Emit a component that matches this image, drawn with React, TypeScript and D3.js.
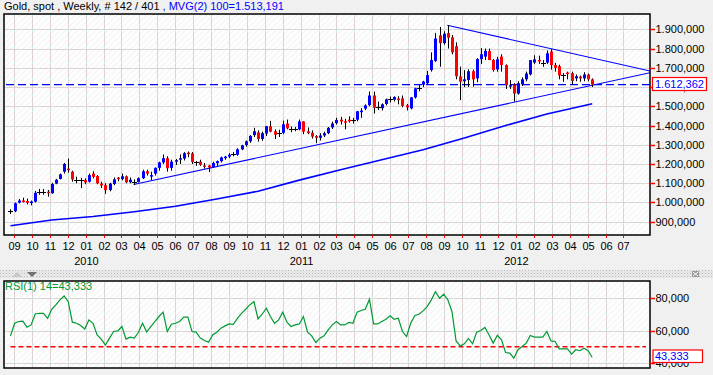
import React from "react";
import * as d3 from "d3";

const W = 713;
const H = 375;

// weekly bars, first bar week of 2009-08-24 (plotted mid-week)
const FIRST_BAR = Date.UTC(2009, 7, 26);

const opens = [
  955, 955, 999, 1010, 1008, 998, 1004, 1052, 1054, 1056,
  1048, 1098, 1122, 1160, 1176, 1160, 1118, 1115, 1116, 1108,
  1150, 1137, 1098, 1090, 1065, 1096, 1129, 1122, 1136, 1105,
  1104, 1106, 1126, 1162, 1138, 1150, 1180, 1208, 1230, 1180,
  1212, 1224, 1228, 1259, 1255, 1210, 1212, 1192, 1192, 1184,
  1204, 1215, 1230, 1238, 1250, 1248, 1276, 1298, 1318, 1350,
  1364, 1330, 1358, 1396, 1370, 1360, 1362, 1410, 1382, 1381,
  1380, 1421, 1370, 1362, 1345, 1336, 1348, 1360, 1390, 1412,
  1430, 1422, 1430, 1428, 1430, 1472, 1488, 1506, 1556, 1496,
  1490, 1512, 1540, 1534, 1540, 1541, 1505, 1489, 1546, 1597,
  1612, 1620, 1688, 1736, 1868, 1828, 1880, 1858, 1812, 1655,
  1630, 1636, 1682, 1645, 1745, 1758, 1787, 1740, 1692, 1758,
  1714, 1606, 1612, 1566, 1614, 1640, 1666, 1727, 1741, 1727,
  1727, 1784, 1714, 1708, 1660, 1675, 1672, 1645, 1654, 1645,
  1665, 1640,
];
const highs = [
  965, 1000, 1018, 1025, 1020, 1010, 1060, 1070, 1070, 1065,
  1102, 1122, 1150, 1205, 1228, 1165, 1134, 1128, 1125, 1150,
  1162, 1142, 1108, 1100, 1102, 1130, 1132, 1150, 1140, 1130,
  1120, 1130, 1170, 1170, 1160, 1182, 1212, 1249, 1240, 1222,
  1226, 1250, 1262, 1265, 1262, 1215, 1222, 1205, 1195, 1212,
  1218, 1238, 1242, 1256, 1262, 1282, 1300, 1322, 1350, 1388,
  1375, 1368, 1398, 1424, 1380, 1378, 1425, 1431, 1395, 1392,
  1431, 1423, 1390, 1375, 1350, 1360, 1368, 1392, 1420, 1440,
  1445, 1435, 1448, 1440, 1476, 1490, 1510, 1577, 1576, 1524,
  1515, 1540, 1550, 1552, 1552, 1556, 1512, 1548, 1596, 1610,
  1632, 1684, 1780, 1880, 1912, 1890, 1921, 1870, 1832, 1706,
  1688, 1692, 1690, 1750, 1802, 1800, 1800, 1745, 1757, 1770,
  1718, 1636, 1620, 1630, 1650, 1680, 1740, 1765, 1763, 1740,
  1790, 1796, 1725, 1716, 1672, 1680, 1680, 1665, 1660, 1677,
  1670, 1645,
];
const lows = [
  940, 950, 995, 1000, 990, 985, 1000, 1040, 1040, 1030,
  1045, 1095, 1120, 1150, 1155, 1108, 1100, 1075, 1095, 1104,
  1125, 1095, 1075, 1045, 1058, 1090, 1110, 1115, 1100, 1100,
  1090, 1104, 1122, 1140, 1116, 1140, 1165, 1200, 1160, 1165,
  1195, 1200, 1218, 1235, 1200, 1190, 1190, 1176, 1158, 1180,
  1190, 1208, 1222, 1230, 1240, 1243, 1272, 1290, 1310, 1340,
  1316, 1320, 1345, 1365, 1330, 1340, 1355, 1380, 1365, 1370,
  1375, 1355, 1355, 1332, 1308, 1322, 1340, 1355, 1382, 1405,
  1405, 1380, 1415, 1410, 1422, 1440, 1480, 1500, 1462, 1480,
  1478, 1505, 1520, 1525, 1510, 1495, 1478, 1484, 1540, 1578,
  1600, 1610, 1680, 1730, 1705, 1820, 1800, 1770, 1640, 1532,
  1600, 1600, 1602, 1625, 1720, 1740, 1740, 1680, 1680, 1680,
  1590, 1590, 1524, 1560, 1605, 1630, 1660, 1720, 1720, 1705,
  1720, 1690, 1680, 1640, 1627, 1640, 1612, 1630, 1627, 1630,
  1630, 1600,
];
const closes = [
  955, 996, 1010, 1007, 998, 1005, 1050, 1052, 1054, 1050,
  1096, 1118, 1146, 1200, 1168, 1120, 1118, 1115, 1104, 1142,
  1133, 1100, 1088, 1064, 1098, 1120, 1122, 1136, 1105, 1118,
  1104, 1126, 1162, 1150, 1142, 1180, 1208, 1230, 1178, 1212,
  1220, 1230, 1256, 1256, 1211, 1210, 1195, 1188, 1182, 1205,
  1215, 1234, 1238, 1248, 1250, 1276, 1297, 1318, 1346, 1370,
  1330, 1360, 1396, 1368, 1352, 1360, 1406, 1385, 1382, 1381,
  1421, 1368, 1360, 1342, 1336, 1348, 1360, 1388, 1410, 1429,
  1421, 1418, 1426, 1428, 1474, 1477, 1504, 1556, 1492, 1496,
  1510, 1536, 1540, 1548, 1538, 1502, 1494, 1546, 1593, 1597,
  1628, 1662, 1740, 1852, 1828, 1877, 1857, 1780, 1656, 1628,
  1640, 1682, 1640, 1745, 1770, 1788, 1740, 1688, 1744, 1714,
  1610, 1610, 1566, 1620, 1640, 1670, 1740, 1744, 1735, 1727,
  1775, 1714, 1700, 1660, 1660, 1668, 1632, 1656, 1645, 1665,
  1640, 1612.362,
];

const rsiValues = [
  56.7, 64.5, 65.6, 65.8, 62.1, 63.5, 70.3, 70.7, 70.7, 67.6,
  73.2, 75.9, 79, 81.4, 77.9, 65.2, 64.5, 63.1, 61, 66.6,
  64.5, 57.3, 54.7, 51, 55.3, 59.4, 59.8, 62.5, 54.7, 55.9,
  55.3, 58.8, 64.5, 59.2, 62.5, 65.6, 68.7, 71.4, 59.4, 63.9,
  64.5, 65.6, 68.3, 68.3, 59.4, 59, 55.3, 53.8, 52.8, 57.3,
  59, 61.5, 62.9, 64.1, 63.9, 67.6, 70.7, 73.2, 75.9, 77.9,
  67.2, 70.1, 73.8, 68.7, 64.5, 66.6, 71.4, 65.2, 62.5, 63.5,
  64.1, 68.7, 59, 56.7, 52.6, 55.3, 56.7, 60.4, 63.5, 65.6,
  63.5, 63.5, 65, 64.5, 71.4, 72.4, 73.2, 79.4, 64.1, 64.1,
  65.6, 67, 69.1, 67, 67.6, 59.4, 56.3, 64.5, 69.3, 70.1,
  72.2, 74.8, 79, 84.1, 80, 82.5, 79, 71.8, 53.6, 50.5,
  51.8, 55.1, 51.8, 59, 60, 61.9, 57.3, 52.2, 57.1, 54.3,
  46.4, 46, 42.9, 48.1, 50.1, 52.2, 56.9, 55.9, 55.9, 55.9,
  59.4, 53.6, 53.2, 48.7, 48.7, 48.7, 45.4, 48.1, 47.5, 49.1,
  47.5, 43.333,
];

// 100-week moving average, read at selected bars
const maBarIndex = [0, 10, 20, 30, 40, 50, 60, 70, 80, 90, 100, 110, 120, 130, 141];
const maValues = [879, 909, 927, 952, 980, 1018, 1058, 1116, 1170, 1222, 1274, 1335, 1400, 1460, 1513.191];

// hand-drawn trend lines [date, price]
const upperTrendDates = ["2011-09-06", "2012-08-15"];
const upperTrendPrices = [1921, 1683];
const lowerTrendDates = ["2010-03-23", "2012-08-15"];
const lowerTrendPrices = [1093, 1674];

const priceTicks = [900, 1000, 1100, 1200, 1300, 1400, 1500, 1600, 1700, 1800, 1900];
const rsiTicks = [40, 60, 80];
const RSI_LEVEL = 50;
const LAST_PRICE = 1612.362;
const LAST_RSI = 43.333;
const MA_LAST = 1513.191;

const locale = d3.formatLocale({ decimal: ",", thousands: ".", grouping: [3], currency: ["", ""] });
const fmt3 = locale.format(",.3f");

const FONT = "'Liberation Sans', Arial, sans-serif";

export default function App() {
  const left = 4, right = 650, top = 14, bottom = 235;
  const rTop = 281, rBottom = 368;

  const x = d3.scaleUtc()
    .domain([new Date(Date.UTC(2009, 7, 15)), new Date(Date.UTC(2012, 7, 15))])
    .range([left, right]);
  const y = d3.scaleLinear().domain([830.9, 1979.5]).range([bottom, top]);
  const yr = d3.scaleLinear().domain([36.8, 90.7]).range([rBottom, rTop]);

  const dates = d3.range(closes.length).map((i) => d3.utcDay.offset(new Date(FIRST_BAR), 7 * i));
  const months = d3.utcMonth.range(new Date(Date.UTC(2009, 8, 1)), new Date(Date.UTC(2012, 6, 2)));
  const fmtMonth = d3.utcFormat("%m");
  const fmtYear = d3.utcFormat("%Y");

  const maLine = d3.line<number>()
    .x((d, k) => x(dates[maBarIndex[k]]))
    .y((d) => y(d));
  const rsiLine = d3.line<number>()
    .x((d, i) => x(dates[i]))
    .y((d) => yr(d));
  const trend = d3.line<[Date, number]>().x((d) => x(d[0])).y((d) => y(d[1]));
  const upper: [Date, number][] = upperTrendDates.map((s, k) => [new Date(s + "T00:00:00Z"), upperTrendPrices[k]]);
  const lower: [Date, number][] = lowerTrendDates.map((s, k) => [new Date(s + "T00:00:00Z"), lowerTrendPrices[k]]);

  const gridColor = "#dcd2d2";
  const cyanDash = "#c4eeee";

  const vGrid = (y0: number, y1: number, key: string) =>
    months.map((m, k) => {
      const xx = Math.round(x(m)) + 0.5;
      return (
        <g key={key + k}>
          <line x1={xx} x2={xx} y1={y0} y2={y1} stroke={gridColor} strokeWidth={1} />
          <line x1={xx} x2={xx} y1={y0} y2={y1} stroke={cyanDash} strokeWidth={1} strokeDasharray="2,14" />
        </g>
      );
    });

  return (
    <svg width={W} height={H} style={{ position: "absolute", left: 0, top: 0 }} fontFamily={FONT}>
      <defs>
        <pattern id="hatch" width="6" height="6" patternUnits="userSpaceOnUse">
          <rect width="6" height="6" fill="#fdfdfd" />
          <path d="M-1,1 L1,-1 M0,6 L6,0 M5,7 L7,5" stroke="#efefef" strokeWidth="0.8" />
        </pattern>
        <pattern id="dots" width="3" height="3" patternUnits="userSpaceOnUse">
          <rect width="3" height="3" fill="#ececec" />
          <rect x="0" y="0" width="1" height="1" fill="#b4b4b4" />
          <rect x="1.5" y="1.5" width="1" height="1" fill="#c8c8c8" />
        </pattern>
        <clipPath id="mainClip">
          <rect x={left} y={top} width={right - left} height={bottom - top} />
        </clipPath>
        <clipPath id="rsiClip">
          <rect x={left} y={rTop} width={right - left} height={rBottom - rTop} />
        </clipPath>
      </defs>

      <rect width={W} height={H} fill="#f0f0f0" />

      {/* title */}
      <text x={4} y={10} fontSize={11} fill="#000">
        Gold, spot , Weekly, # 142 / 401
        <tspan fill="#0000ff">{" , MVG(2) 100=" + fmt3(MA_LAST)}</tspan>
      </text>

      {/* ===== main panel ===== */}
      <rect x={left} y={top} width={right - left} height={bottom - top} fill="url(#hatch)" />
      <g>
        {vGrid(top, bottom, "vm")}
        {priceTicks.map((p) => {
          const yy = Math.round(y(p)) + 0.5;
          return (
            <g key={"hg" + p}>
              <line x1={left} x2={right} y1={yy} y2={yy} stroke={gridColor} />
              <line x1={left} x2={right} y1={yy} y2={yy} stroke={cyanDash} strokeDasharray="2,14" />
            </g>
          );
        })}
      </g>

      <g clipPath="url(#mainClip)">
        {/* moving average */}
        <path d={maLine(maValues) || ""} fill="none" stroke="#0000ff" strokeWidth={1.6} />
        {/* trend lines */}
        <path d={trend(upper) || ""} fill="none" stroke="#0000ff" strokeWidth={1.1} />
        <path d={trend(lower) || ""} fill="none" stroke="#0000ff" strokeWidth={1.1} />
        {/* last price dashed line */}
        <line x1={left + 2} x2={right} y1={y(LAST_PRICE)} y2={y(LAST_PRICE)} stroke="#0000ff"
          strokeWidth={1.4} strokeDasharray="8,4" />

        {/* candles */}
        {closes.map((c, i) => {
          const o = opens[i];
          const cx = Math.round(x(dates[i])) + 0.5;
          const doji = Math.abs(c - o) < 1;
          const color = doji ? "#000" : c > o ? "#0000ff" : "#ff0000";
          const yTop = y(Math.max(o, c));
          const yBot = y(Math.min(o, c));
          return (
            <g key={"c" + i}>
              <line x1={cx} x2={cx} y1={y(highs[i])} y2={y(lows[i])} stroke="#000" strokeWidth={1} />
              {doji ? (
                <line x1={cx - 2.5} x2={cx + 2.5} y1={Math.round(y(c)) + 0.5} y2={Math.round(y(c)) + 0.5}
                  stroke="#000" strokeWidth={1} />
              ) : (
                <rect x={cx - 1.5} y={yTop} width={3} height={Math.max(1.5, yBot - yTop)} fill={color} />
              )}
            </g>
          );
        })}
      </g>

      <rect x={left} y={top} width={right - left} height={bottom - top} fill="none" stroke="#000" strokeWidth={1.5} />

      {/* right price axis */}
      {priceTicks.map((p) => {
        const yy = Math.round(y(p)) + 0.5;
        return (
          <g key={"pt" + p}>
            <line x1={right} x2={right + 5} y1={yy} y2={yy} stroke="#ff0000" strokeWidth={1.5} />
            <text x={right + 5.5} y={yy} dy="0.36em" fontSize={11} fill="#000">{fmt3(p)}</text>
          </g>
        );
      })}
      <rect x={652.5} y={77.5} width={54} height={13} fill="#fff" stroke="#ff0000" strokeWidth={1.2} />
      <text x={655} y={84.5} dy="0.36em" fontSize={11} fill="#0000ff">{fmt3(LAST_PRICE)}</text>

      {/* bottom time axis */}
      {months.map((m, k) => {
        const xx = Math.round(x(m)) + 0.5;
        return (
          <g key={"mt" + k}>
            <line x1={xx} x2={xx} y1={bottom} y2={bottom + 3} stroke="#ff0000" strokeWidth={1} />
            <text x={xx} y={249.5} fontSize={11} textAnchor="middle" fill="#000">{fmtMonth(m)}</text>
            {m.getUTCMonth() === 0 ? (
              <text x={xx} y={265} fontSize={11} textAnchor="middle" fill="#000">{fmtYear(m)}</text>
            ) : null}
          </g>
        );
      })}

      {/* separator */}
      <rect x={0} y={270} width={W} height={8} fill="url(#dots)" />
      <path d="M12,277 L17,272 L22,277 Z" fill="#c8c8c8" />
      <path d="M27,272 L37,272 L32,277 Z" fill="#707070" />
      <rect x={692} y={271} width={7} height={6} fill="#9a9a9a" />
      <path d="M693,272 L698,276 M698,272 L693,276" stroke="#fff" strokeWidth={1} />

      {/* ===== RSI panel ===== */}
      <rect x={left} y={rTop} width={right - left} height={rBottom - rTop} fill="url(#hatch)" />
      {vGrid(rTop, rBottom, "vr")}
      {rsiTicks.map((v) => {
        const yy = Math.round(yr(v)) + 0.5;
        return (
          <g key={"rg" + v}>
            <line x1={left} x2={right} y1={yy} y2={yy} stroke={gridColor} />
            <line x1={left} x2={right} y1={yy} y2={yy} stroke={cyanDash} strokeDasharray="2,14" />
          </g>
        );
      })}
      <g clipPath="url(#rsiClip)">
        <line x1={x(dates[0])} x2={right - 4} y1={yr(RSI_LEVEL)} y2={yr(RSI_LEVEL)} stroke="#ff0000"
          strokeWidth={1.4} strokeDasharray="5,3" />
        <path d={rsiLine(rsiValues) || ""} fill="none" stroke="#009933" strokeWidth={1.2} />
      </g>
      <text x={5} y={289.5} fontSize={11} fill="#009933">{"RSI(1) 14=" + fmt3(LAST_RSI)}</text>
      <rect x={left} y={rTop} width={right - left} height={rBottom - rTop} fill="none" stroke="#000" strokeWidth={1.5} />

      {rsiTicks.map((v) => {
        const yy = Math.round(yr(v)) + 0.5;
        return (
          <g key={"rt" + v}>
            <line x1={right} x2={right + 5} y1={yy} y2={yy} stroke="#ff0000" strokeWidth={1.5} />
            <text x={right + 5.5} y={yy} dy="0.36em" fontSize={11} fill="#000">{fmt3(v)}</text>
          </g>
        );
      })}
      <rect x={653} y={350} width={49.5} height={12.5} fill="#fff" stroke="#ff0000" strokeWidth={1.2} />
      <text x={655} y={356.3} dy="0.36em" fontSize={11} fill="#0000ff">{fmt3(LAST_RSI)}</text>
    </svg>
  );
}
